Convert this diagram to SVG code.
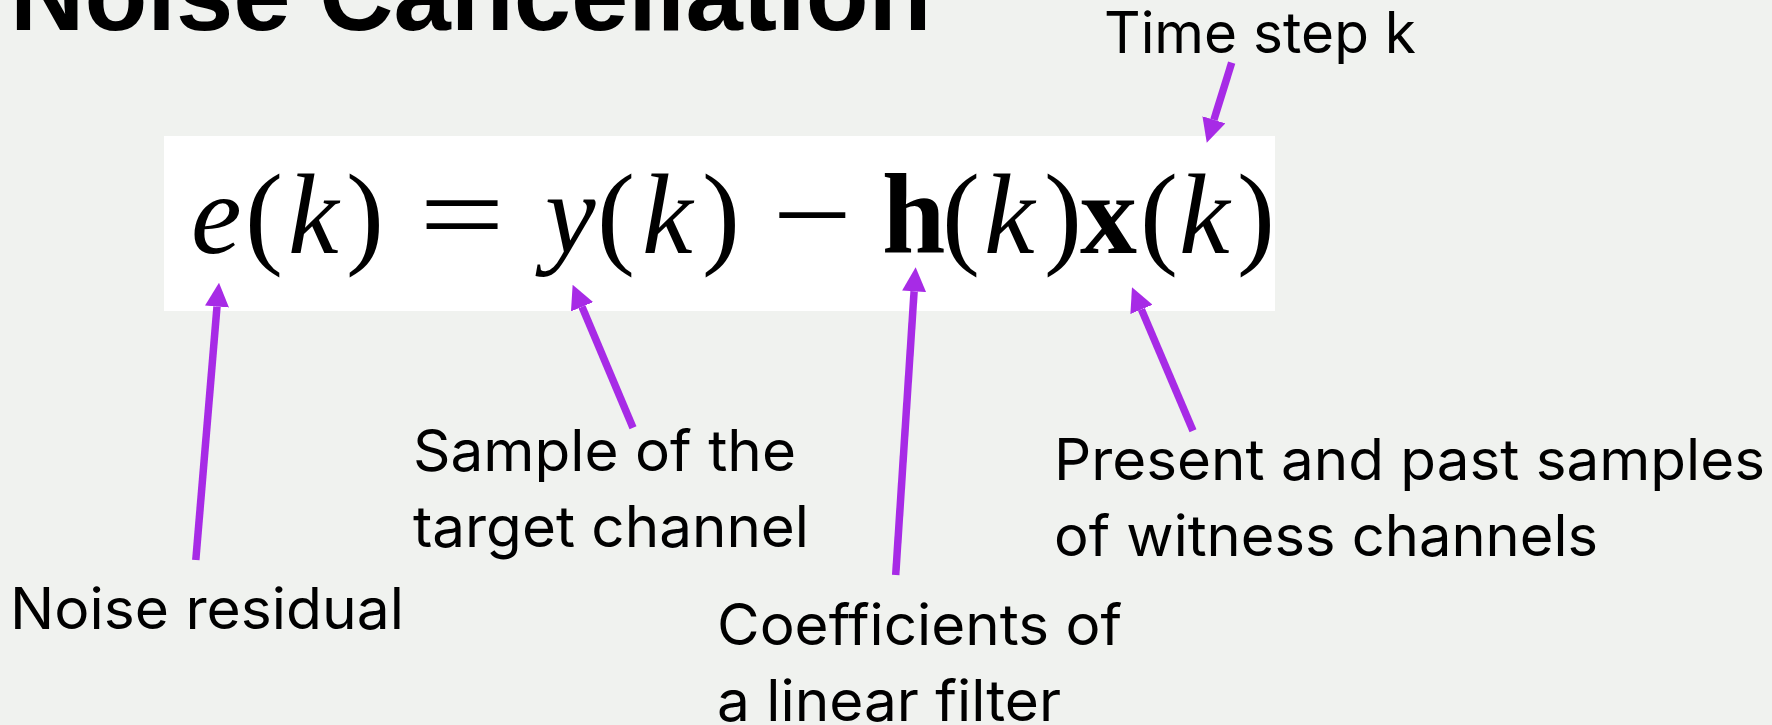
<svg xmlns="http://www.w3.org/2000/svg" width="1772" height="725" viewBox="0 0 1772 725">
  <style>
    .lbl { font-family: Inter, "Liberation Sans", sans-serif; font-size: 57px; fill: #000; }
    .title { font-family: "Liberation Sans", Arial, sans-serif; font-weight: bold; font-size: 103px; fill: #000; }
    .m { font-family: "Liberation Serif", "Times New Roman", serif; font-size: 114px; fill: #000; }
    .it { font-style: italic; }
    .bd { font-weight: bold; }
    .arr { stroke: #A72BE6; stroke-width: 7.5; fill: none; marker-end: url(#head); }
  </style>
  <defs>
    <marker id="head" markerUnits="userSpaceOnUse" markerWidth="24" markerHeight="24" refX="0" refY="12" orient="auto" viewBox="0 0 24 24">
      <path d="M0,0 L24,12 L0,24 z" fill="#A72BE6"/>
    </marker>
  </defs>
  <rect x="0" y="0" width="1772" height="725" fill="#F0F2EF"/>

  <g id="title">
    <text class="title" x="10" y="30">Noise Cancellation</text>
  </g>

  <g id="equation">
    <rect x="164" y="136" width="1111" height="175" fill="#FFFFFF"/>
    <text class="m it" x="191" y="253">e</text>
    <text class="m" x="245" y="253">(</text>
    <text class="m it" x="288" y="253">k</text>
    <text class="m" x="346" y="253">)</text>
    <text class="m" x="419" y="253" textLength="86" lengthAdjust="spacingAndGlyphs">=</text>
    <text class="m it" x="545" y="253">y</text>
    <text class="m" x="597" y="253">(</text>
    <text class="m it" x="642" y="253">k</text>
    <text class="m" x="702" y="253">)</text>
    <text class="m" x="772" y="253" textLength="80" lengthAdjust="spacingAndGlyphs">−</text>
    <text class="m bd" x="882" y="253">h</text>
    <text class="m" x="942" y="253">(</text>
    <text class="m it" x="984" y="253">k</text>
    <text class="m" x="1044" y="253">)</text>
    <text class="m bd" x="1080" y="253">x</text>
    <text class="m" x="1140" y="253">(</text>
    <text class="m it" x="1179" y="253">k</text>
    <text class="m" x="1237" y="253">)</text>
  </g>

  <g id="label-time">
    <text class="lbl" x="1104" y="53" textLength="312" lengthAdjust="spacingAndGlyphs">Time step k</text>
  </g>
  <g id="label-residual">
    <text class="lbl" x="10" y="629" textLength="394" lengthAdjust="spacingAndGlyphs">Noise residual</text>
  </g>
  <g id="label-target">
    <text class="lbl" x="413" y="471" textLength="383" lengthAdjust="spacingAndGlyphs">Sample of the</text>
    <text class="lbl" x="413" y="546.5" textLength="396" lengthAdjust="spacingAndGlyphs">target channel</text>
  </g>
  <g id="label-filter">
    <text class="lbl" x="717" y="644.5" textLength="405" lengthAdjust="spacingAndGlyphs">Coefficients of</text>
    <text class="lbl" x="717" y="720.5" textLength="344" lengthAdjust="spacingAndGlyphs">a linear filter</text>
  </g>
  <g id="label-witness">
    <text class="lbl" x="1054" y="480" textLength="711" lengthAdjust="spacingAndGlyphs">Present and past samples</text>
    <text class="lbl" x="1054" y="556" textLength="544" lengthAdjust="spacingAndGlyphs">of witness channels</text>
  </g>

  <g id="connectors">
    <line class="arr" x1="195.8" y1="560" x2="217.0" y2="306.6"/>
    <line class="arr" x1="633" y1="427.7" x2="582.0" y2="306.8"/>
    <line class="arr" x1="895.7" y1="575" x2="914.1" y2="291.3"/>
    <line class="arr" x1="1193" y1="430.7" x2="1141.4" y2="309.4"/>
    <line class="arr" x1="1231.7" y1="62.7" x2="1213.9" y2="119.8"/>
  </g>
</svg>
